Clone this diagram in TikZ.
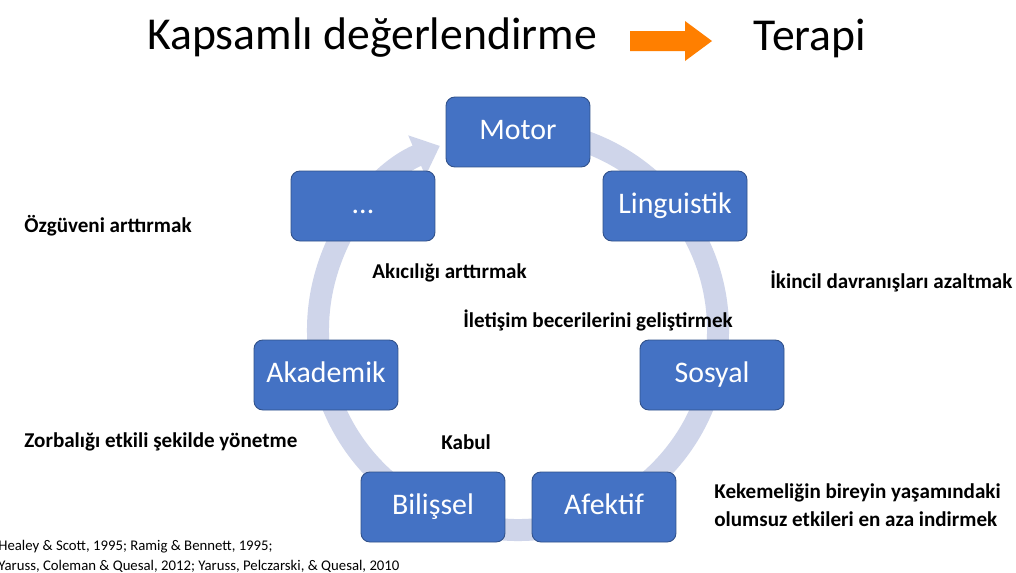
\documentclass[tikz,border=0pt]{standalone}
\usepackage{fontspec}
\setmainfont{Carlito}
\usetikzlibrary{arrows.meta}
\definecolor{boxblue}{HTML}{4472C4}
\definecolor{ring}{HTML}{CFD5EA}
\definecolor{orng}{HTML}{FF7F00}
\begin{document}
\begin{tikzpicture}[x=0.02cm,y=-0.02cm,
  stage/.style={fill=boxblue,draw=boxblue!70!black,line width=0.5pt,rounded corners=5pt,minimum width=2.88cm,minimum height=1.4cm,text=white,text height=12pt,text depth=3pt,font=\fontsize{17}{20}\selectfont},
  lbl/.style={anchor=west,font=\bfseries\fontsize{12}{14}\selectfont,inner sep=0pt,align=left},
  ref/.style={anchor=west,font=\fontsize{8.4}{10}\selectfont,inner sep=0pt}]
\useasboundingbox (0,0) rectangle (1016,572);
\fill[white] (0,0) rectangle (1016,572);
% ring
\draw[ring,line width=0.44cm,-{Triangle[length=0.5cm,width=0.85cm]}]
  ([shift={(-80:200)}]518,330) arc[start angle=-80,end angle=247,radius=200];
% stages
\node[stage] (motor) at (518,132) {Motor};
\node[stage] (ling) at (675,206) {Linguistik};
\node[stage] (sos) at (712,375) {Sosyal};
\node[stage] (afk) at (604,507) {Afektif};
\node[stage] (bil) at (433,507) {Bilişsel};
\node[stage] (aka) at (326,375) {Akademik};
\node[stage] (dots) at (363,206) {...};
% title
\node[font=\fontsize{26}{30}\selectfont,inner sep=0pt] (t1) at (372,38) {Kapsamlı değerlendirme};
\node[font=\fontsize{26}{30}\selectfont,inner sep=0pt] (t2) at (810,38) {Terapi};
\fill[orng] (630,31) -- (685,31) -- (685,21) -- (712,41) -- (685,61) -- (685,51) -- (630,51) -- cycle;
% labels
\node[lbl] (l1) at (24,226) {Özgüveni arttırmak};
\node[lbl] (l2) at (372,273) {Akıcılığı arttırmak};
\node[lbl] (l3) at (770,281) {İkincil davranışları azaltmak};
\node[lbl] (l4) at (463,320) {İletişim becerilerini geliştirmek};
\node[lbl] (l5) at (24,442) {Zorbalığı etkili şekilde yönetme};
\node[lbl] (l6) at (441,442) {Kabul};
\node[lbl,anchor=north west] (l7) at (714,483) {Kekemeliğin bireyin yaşamındaki\\[2pt]olumsuz etkileri en aza indirmek};
\node[ref] (r1) at (-2,547) {Healey \& Scott, 1995; Ramig \& Bennett, 1995;};
\node[ref] (r2) at (-2,566) {Yaruss, Coleman \& Quesal, 2012; Yaruss, Pelczarski, \& Quesal, 2010};
\end{tikzpicture}
\end{document}
